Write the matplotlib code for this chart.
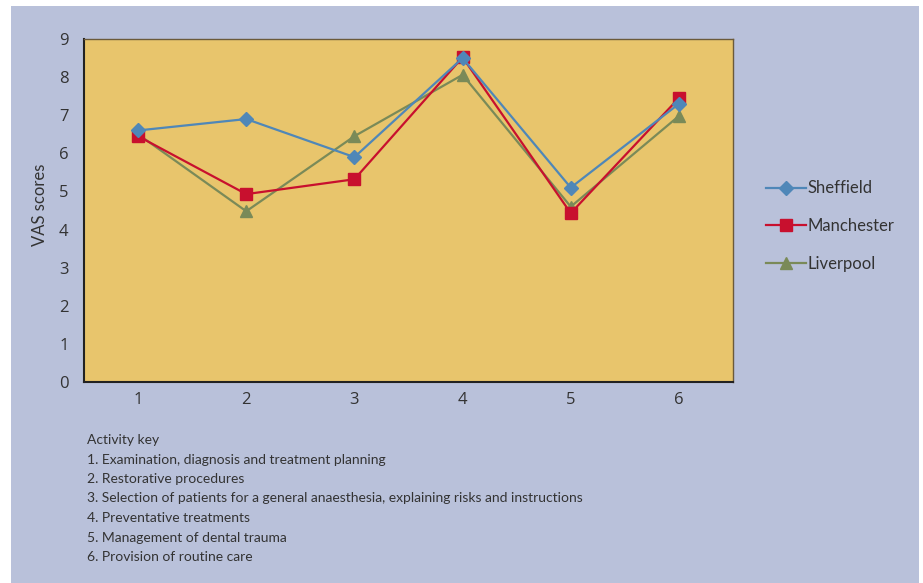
import numpy as np
from matplotlib import pyplot as plt
from matplotlib.patches import Rectangle

plt.rcParams['font.family'] = ['Lato', 'DejaVu Sans']

activities = [1, 2, 3, 4, 5, 6]
sheffield = [6.6, 6.9, 5.9, 8.5, 5.1, 7.3]
manchester = [6.45, 4.93, 5.32, 8.52, 4.43, 7.45]
liverpool = [6.5, 4.48, 6.45, 8.06, 4.6, 6.98]

key_lines = [
	'Activity key',
	'1. Examination, diagnosis and treatment planning',
	'2. Restorative procedures',
	'3. Selection of patients for a general anaesthesia, explaining risks and instructions',
	'4. Preventative treatments',
	'5. Management of dental trauma',
	'6. Provision of routine care',
]

panel = '#b9c1da'
W, H = 923, 583
fig = plt.figure(figsize=(W/100, H/100), dpi=100)
fig.patch.set_facecolor('white')
# blue panel behind everything
fig.patches.append(Rectangle((11/W, 0), (919-11)/W, (H-6)/H, transform=fig.transFigure,
	facecolor=panel, edgecolor='none', zorder=-10))

ax = fig.add_axes([84/W, (H-382)/H, (733-84)/W, (382-39)/H])
ax.set_facecolor('#e8c56c')

ax.plot(activities, liverpool, color='#7a8a58', lw=1.6, marker='^', ms=9, label='Liverpool', zorder=2)
ax.plot(activities, manchester, color='#c8102e', lw=1.6, marker='s', ms=8, label='Manchester', zorder=3)
ax.plot(activities, sheffield, color='#4f87b8', lw=1.6, marker='D', ms=7.5, label='Sheffield', zorder=4)

ax.set_xlim(0.5, 6.5)
ax.set_ylim(0, 9)
ax.set_xticks(activities)
ax.set_yticks(range(10))
ax.tick_params(length=0, labelsize=12, colors='#333333')
ax.tick_params(axis='x', pad=7)
ax.tick_params(axis='y', pad=11)
for lab in ax.get_xticklabels() + ax.get_yticklabels():
	lab.set_family('Open Sans')
for s in ['left', 'bottom']:
	ax.spines[s].set_color('#222222')
	ax.spines[s].set_linewidth(1.5)
for s in ['top', 'right']:
	ax.spines[s].set_color('#6b5a3a')
	ax.spines[s].set_linewidth(1.0)

fig.text(40/W, 1-205/H, 'VAS scores', rotation=90, ha='center', va='center',
	fontsize=12, color='#333333')

h, l = ax.get_legend_handles_labels()
order = [2, 1, 0]
fig.legend([h[i] for i in order], [l[i] for i in order], loc='center left',
	bbox_to_anchor=(751/W, 1-226/H), frameon=False, fontsize=12,
	handlelength=2.4, handletextpad=0.1, labelspacing=1.3, labelcolor='#333333')

for i, t in enumerate(key_lines):
	fig.text(87/W, 1-(440+19.5*i)/H, t, ha='left', va='center', fontsize=10, color='#333333')

plt.savefig('out.png', dpi=100, facecolor=fig.get_facecolor())
